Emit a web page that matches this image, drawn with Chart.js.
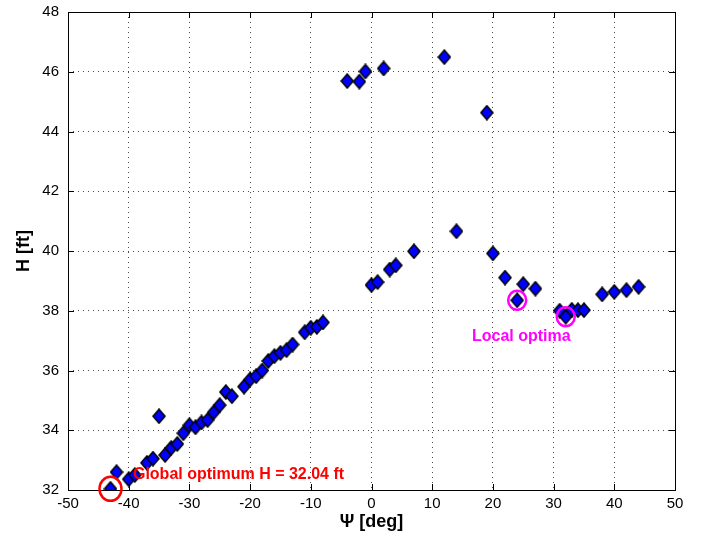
<!DOCTYPE html>
<html>
<head>
<meta charset="utf-8">
<script src="https://cdn.jsdelivr.net/npm/chart.js@4.4.0/dist/chart.umd.min.js"></script>
<style>
  html, body { margin: 0; padding: 0; background: #fff; }
  #wrap { width: 702px; height: 542px; }
</style>
</head>
<body>
<div id="wrap"><canvas id="scatterChart" width="702" height="542"></canvas></div>
<script>
// heading angle samples and resulting H
const psi = [-43, -42, -40, -39, -37, -36, -35, -34, -33, -32, -31, -30, -29, -28, -27, -26, -25, -24, -23,
    -21, -20, -19, -18, -17, -16, -15, -14, -13, -11, -10, -9, -8,
    -4, -2, -1, 2, 12, 19,
    0, 1, 3, 4, 7, 14, 20, 22, 24, 25, 27, 31, 32, 33, 34, 35, 38, 40, 42, 44];
const H = [32.04, 32.6, 32.36, 32.5, 32.91, 33.05, 34.47, 33.17, 33.41, 33.54, 33.9, 34.17, 34.1, 34.26, 34.34, 34.6, 34.84, 35.28, 35.14,
    35.46, 35.7, 35.81, 36.0, 36.32, 36.48, 36.59, 36.68, 36.87, 37.28, 37.43, 37.46, 37.61,
    45.69, 45.67, 46.01, 46.11, 46.49, 44.63,
    38.86, 38.96, 39.38, 39.52, 39.99, 40.66, 39.92, 39.11, 38.35, 38.89, 38.74, 38.0, 37.8, 38.03, 38.02, 38.02, 38.55, 38.63, 38.69, 38.8];
const xTicks = [-50, -40, -30, -20, -10, 0, 10, 20, 30, 40, 50];
const yTicks = [32, 34, 36, 38, 40, 42, 44, 46, 48];

const globalOpt = { x: -43, y: 32.04 };
const localOpts = [{ x: 24, y: 38.35 }, { x: 32, y: 37.8 }];

const FONT = "'Liberation Sans', Arial, sans-serif";

// taller-than-wide diamond like the matlab marker
function diamond() {
    const c = document.createElement("canvas");
    c.width = 14;
    c.height = 16;
    const g = c.getContext("2d");
    g.beginPath();
    g.moveTo(7, 1);
    g.lineTo(13, 8);
    g.lineTo(7, 15);
    g.lineTo(1, 8);
    g.closePath();
    g.fillStyle = "#0000ff";
    g.fill();
    g.lineWidth = 1.5;
    g.strokeStyle = "#000";
    g.stroke();
    return c;
}

const points = psi.map(function (v, i) { return { x: v, y: H[i] }; });

const boxPlugin = {
    id: "box",
    afterDraw: function (chart) {
        const ctx = chart.ctx;
        const a = chart.chartArea;
        const xs = chart.scales.x, ys = chart.scales.y;
        ctx.save();
        ctx.strokeStyle = "#000";
        ctx.lineWidth = 1;
        ctx.strokeRect(a.left + 0.5, a.top + 0.5, a.right - a.left, a.bottom - a.top);
        ctx.beginPath();
        xTicks.forEach(function (t) {
            const px = Math.round(xs.getPixelForValue(t)) + 0.5;
            ctx.moveTo(px, a.bottom); ctx.lineTo(px, a.bottom - 6);
            ctx.moveTo(px, a.top); ctx.lineTo(px, a.top + 6);
        });
        yTicks.forEach(function (t) {
            const py = Math.round(ys.getPixelForValue(t)) + 0.5;
            ctx.moveTo(a.left, py); ctx.lineTo(a.left + 6, py);
            ctx.moveTo(a.right, py); ctx.lineTo(a.right - 6, py);
        });
        ctx.stroke();

        // annotations
        ctx.lineWidth = 2.5;
        ctx.strokeStyle = "#ff0000";
        ctx.beginPath();
        ctx.ellipse(xs.getPixelForValue(globalOpt.x), ys.getPixelForValue(globalOpt.y), 11, 12, 0, 0, 2 * Math.PI);
        ctx.stroke();
        ctx.strokeStyle = "#ff00ff";
        localOpts.forEach(function (p) {
            ctx.beginPath();
            ctx.ellipse(xs.getPixelForValue(p.x), ys.getPixelForValue(p.y), 9, 9.5, 0, 0, 2 * Math.PI);
            ctx.stroke();
        });
        ctx.font = "bold 16px " + FONT;
        ctx.textBaseline = "middle";
        ctx.textAlign = "left";
        ctx.fillStyle = "#ff0000";
        ctx.fillText("Global optimum H = 32.04 ft", xs.getPixelForValue(-39.3), ys.getPixelForValue(32.52));
        ctx.fillStyle = "#ff00ff";
        ctx.fillText("Local optima", xs.getPixelForValue(16.55), ys.getPixelForValue(37.12));
        ctx.restore();
    },
};

const ctx = document.getElementById("scatterChart").getContext("2d");
new Chart(ctx, {
    type: "scatter",
    data: {
        datasets: [
            {
                label: "H",
                data: points,
                pointStyle: diamond(),
                pointRadius: 7,
            },
        ],
    },
    options: {
        responsive: false,
        animation: false,
        layout: { padding: { top: 12, right: 27, left: 0, bottom: 0 } },
        plugins: { legend: { display: false }, tooltip: { enabled: false } },
        scales: {
            x: {
                type: "linear",
                min: -50,
                max: 50,
                afterBuildTicks: function (s) { s.ticks = xTicks.map(function (v) { return { value: v }; }); },
                afterFit: function (s) { s.height = 52; s.paddingLeft = 0; s.paddingRight = 0; },
                grid: { color: "rgba(0,0,0,0.7)", drawTicks: false },
                border: { display: false, dash: [1, 4] },
                ticks: { color: "#000", padding: 5, font: { family: FONT, size: 15 } },
                title: {
                    display: true,
                    text: "Ψ [deg]",
                    color: "#000",
                    padding: { top: 0, bottom: 9 },
                    font: { family: FONT, size: 18, weight: "bold" },
                },
            },
            y: {
                type: "linear",
                min: 32,
                max: 48,
                afterBuildTicks: function (s) { s.ticks = yTicks.map(function (v) { return { value: v }; }); },
                afterFit: function (s) { s.width = 68; s.paddingTop = 0; s.paddingBottom = 0; },
                grid: { color: "rgba(0,0,0,0.7)", drawTicks: false },
                border: { display: false, dash: [1, 4] },
                ticks: { color: "#000", padding: 9, font: { family: FONT, size: 15 } },
                title: {
                    display: true,
                    text: "H [ft]",
                    color: "#000",
                    padding: { top: 13, bottom: 0 },
                    font: { family: FONT, size: 18, weight: "bold" },
                },
            },
        },
    },
    plugins: [boxPlugin],
});
</script>
</body>
</html>
